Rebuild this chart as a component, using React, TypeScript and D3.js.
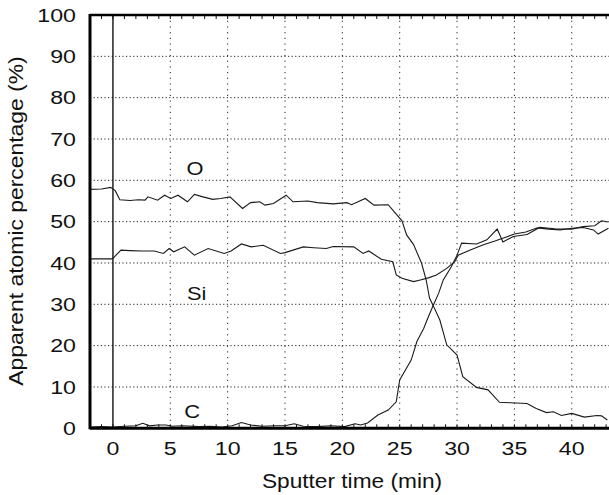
import React from "react";
import * as d3 from "d3";

const oTime = [-2, -1, -0.2, 0.2, 0.6, 1.5, 2.2, 2.8, 3.05, 3.9, 4.5, 5.05, 5.67, 6.5, 7.1, 7.85, 8.7, 9.4, 10.2, 11.3, 12.0, 12.8, 13.25, 14.0, 15.1, 15.7, 17.0, 17.8, 19.2, 20.4, 20.8, 22.0, 22.75, 24.0, 24.4, 25.2, 25.6, 26.2, 26.9, 27.3, 27.6, 27.9, 28.5, 29.1, 30.0, 30.5, 31.7, 32.7, 33.7, 34.6, 36.1, 36.9, 37.8, 38.4, 39.1, 40.0, 41.1, 42.2, 42.6, 43.1];
const oVal = [57.8, 57.9, 58.3, 57.5, 55.3, 55.1, 55.3, 55.2, 56.0, 55.2, 56.4, 55.6, 56.4, 54.8, 56.6, 56.0, 55.4, 55.6, 56.0, 53.2, 54.6, 54.8, 54.0, 54.4, 56.4, 54.8, 55.0, 54.6, 54.3, 54.6, 54.1, 55.6, 54.0, 54.1, 52.8, 50.2, 46.8, 44.5, 40.0, 36.0, 31.5, 29.8, 26.2, 20.2, 17.7, 12.5, 9.9, 9.3, 6.3, 6.2, 6.0, 4.8, 3.8, 4.0, 3.1, 3.6, 2.7, 3.1, 3.0, 2.0];

const siTime = [-2, -0.05, 0.7, 1.5, 2.5, 3.6, 4.4, 4.9, 5.3, 6.25, 7.1, 8.3, 9.7, 10.3, 11.2, 12.05, 13.1, 14.6, 15.0, 16.6, 17.5, 18.6, 19.2, 21.0, 21.8, 22.3, 23.4, 24.4, 24.7, 25.2, 26.2, 26.8, 27.5, 28.2, 29.1, 29.8, 30.1, 31.1, 32.3, 33.3, 34.3, 35.0, 36.0, 37.0, 38.0, 39.0, 40.0, 41.0, 41.9, 42.3, 43.2];
const siVal = [41.0, 41.0, 43.1, 43.0, 42.9, 42.9, 42.3, 43.5, 42.7, 43.9, 41.9, 43.5, 42.3, 42.9, 44.6, 43.9, 44.3, 42.3, 42.5, 43.9, 43.7, 43.5, 44.0, 43.9, 42.3, 42.9, 40.9, 40.3, 37.1, 36.3, 35.5, 35.9, 36.4, 37.1, 38.7, 40.3, 41.9, 43.1, 44.4, 45.3, 46.3, 47.0, 47.5, 48.5, 48.2, 48.0, 48.4, 48.6, 48.0, 47.0, 48.4];

const cTime = [-2, -1, 0, 1, 2, 2.6, 3.2, 3.9, 4.6, 5.2, 6.0, 7.5, 8.5, 9.5, 10.4, 11.2, 12.0, 13.0, 14.2, 15.0, 15.8, 16.6, 17.8, 19.0, 20.2, 21.1, 21.6, 22.2, 23.1, 24.0, 24.7, 25.0, 25.5, 26.0, 26.5, 27.1, 27.5, 27.9, 28.4, 28.8, 29.5, 30.0, 30.4, 31.7, 32.6, 33.5, 34.0, 34.9, 36.1, 37.2, 38.5, 40.0, 41.0, 42.0, 42.6, 43.2];
const cVal = [0.3, 0.4, 0.3, 0.5, 0.6, 1.2, 0.6, 0.8, 0.8, 0.5, 0.6, 0.4, 0.5, 0.3, 0.6, 1.4, 0.8, 0.5, 0.6, 0.6, 1.1, 0.5, 0.4, 0.6, 0.4, 1.1, 0.8, 1.3, 3.2, 4.4, 6.4, 11.7, 14.1, 16.5, 21.0, 24.2, 27.0, 29.6, 32.7, 35.9, 39.1, 41.9, 44.8, 44.6, 45.6, 48.2, 45.1, 46.4, 46.9, 48.6, 48.3, 48.2, 48.8, 49.0, 50.2, 49.9];

const xTicks = [0, 5, 10, 15, 20, 25, 30, 35, 40];
const yTicks = [0, 10, 20, 30, 40, 50, 60, 70, 80, 90, 100];
const minorXTicks = d3.range(-2, 44, 1);

const seriesLabels = [
  { name: "O", t: 7.15, v: 63 },
  { name: "Si", t: 7.3, v: 32.7 },
  { name: "C", t: 6.9, v: 4.2 },
];

const FONT = "'Liberation Sans', Arial, sans-serif";

export default function App() {
  const x = d3.scaleLinear().domain([-2, 43.3]).range([90, 609.6]);
  const y = d3.scaleLinear().domain([0, 100]).range([428.3, 15]);
  const left = x(-2);
  const right = 609;
  const top = y(100);
  const bottom = y(0);

  const mk = (ts: number[], vs: number[]) =>
    d3
      .line<number>()
      .x((_, i) => x(ts[i]))
      .y((v) => y(v))(vs) as string;

  return (
    <svg
      width={609}
      height={495}
      style={{ position: "absolute", left: 0, top: 0, background: "#fff" }}
      fontFamily={FONT}
    >
      <rect width={609} height={495} fill="#fff" />
      {yTicks
        .filter((t) => t > 0 && t < 100)
        .map((t) => (
          <line
            key={"gy" + t}
            x1={left}
            x2={right}
            y1={y(t)}
            y2={y(t)}
            stroke="#222"
            strokeWidth={1}
            strokeDasharray="1.2,2.4"
          />
        ))}
      {xTicks
        .filter((t) => t > 0)
        .map((t) => (
          <line
            key={"gx" + t}
            x1={x(t)}
            x2={x(t)}
            y1={top}
            y2={bottom}
            stroke="#222"
            strokeWidth={1}
            strokeDasharray="1.2,4.5"
          />
        ))}
      {minorXTicks.map((t) => (
        <g key={"mt" + t}>
          <line x1={x(t)} x2={x(t)} y1={bottom} y2={bottom - 4} stroke="#111" strokeWidth={1} />
          <line x1={x(t)} x2={x(t)} y1={top} y2={top + 4} stroke="#111" strokeWidth={1} />
        </g>
      ))}
      <line x1={x(0)} x2={x(0)} y1={y(0)} y2={y(100)} stroke="#111" strokeWidth={1.4} />
      <path d={mk(oTime, oVal)} fill="none" stroke="#1a1a1a" strokeWidth={1.1} />
      <path d={mk(siTime, siVal)} fill="none" stroke="#1a1a1a" strokeWidth={1.1} />
      <path d={mk(cTime, cVal)} fill="none" stroke="#1a1a1a" strokeWidth={1.1} />
      <line x1={left} x2={left} y1={top - 1} y2={bottom + 1} stroke="#000" strokeWidth={3} />
      <line x1={left} x2={right} y1={top} y2={top} stroke="#000" strokeWidth={2.5} />
      <line x1={left} x2={right} y1={bottom} y2={bottom} stroke="#000" strokeWidth={3} />
      {seriesLabels.map((s) => (
        <text
          key={s.name}
          transform={`translate(${x(s.t)},${y(s.v)}) scale(1.15,1)`}
          textAnchor="middle"
          dominantBaseline="central"
          fontSize={19}
          fill="#111"
        >
          {s.name}
        </text>
      ))}
      {yTicks.map((t) => (
        <text
          key={"yl" + t}
          transform={`translate(76,${y(t)}) scale(1.22,1)`}
          textAnchor="end"
          dominantBaseline="central"
          fontSize={19}
          fill="#111"
        >
          {t}
        </text>
      ))}
      {xTicks.map((t) => (
        <text
          key={"xl" + t}
          transform={`translate(${x(t)},455) scale(1.22,1)`}
          textAnchor="middle"
          fontSize={19}
          fill="#111"
        >
          {t}
        </text>
      ))}
      <text transform="translate(352,488) scale(1.08,1)" textAnchor="middle" fontSize={21} fill="#111">
        Sputter time (min)
      </text>
      <text transform="translate(23,221) rotate(-90) scale(1.09,1)" textAnchor="middle" fontSize={21} fill="#111">
        Apparent atomic percentage (%)
      </text>
    </svg>
  );
}
